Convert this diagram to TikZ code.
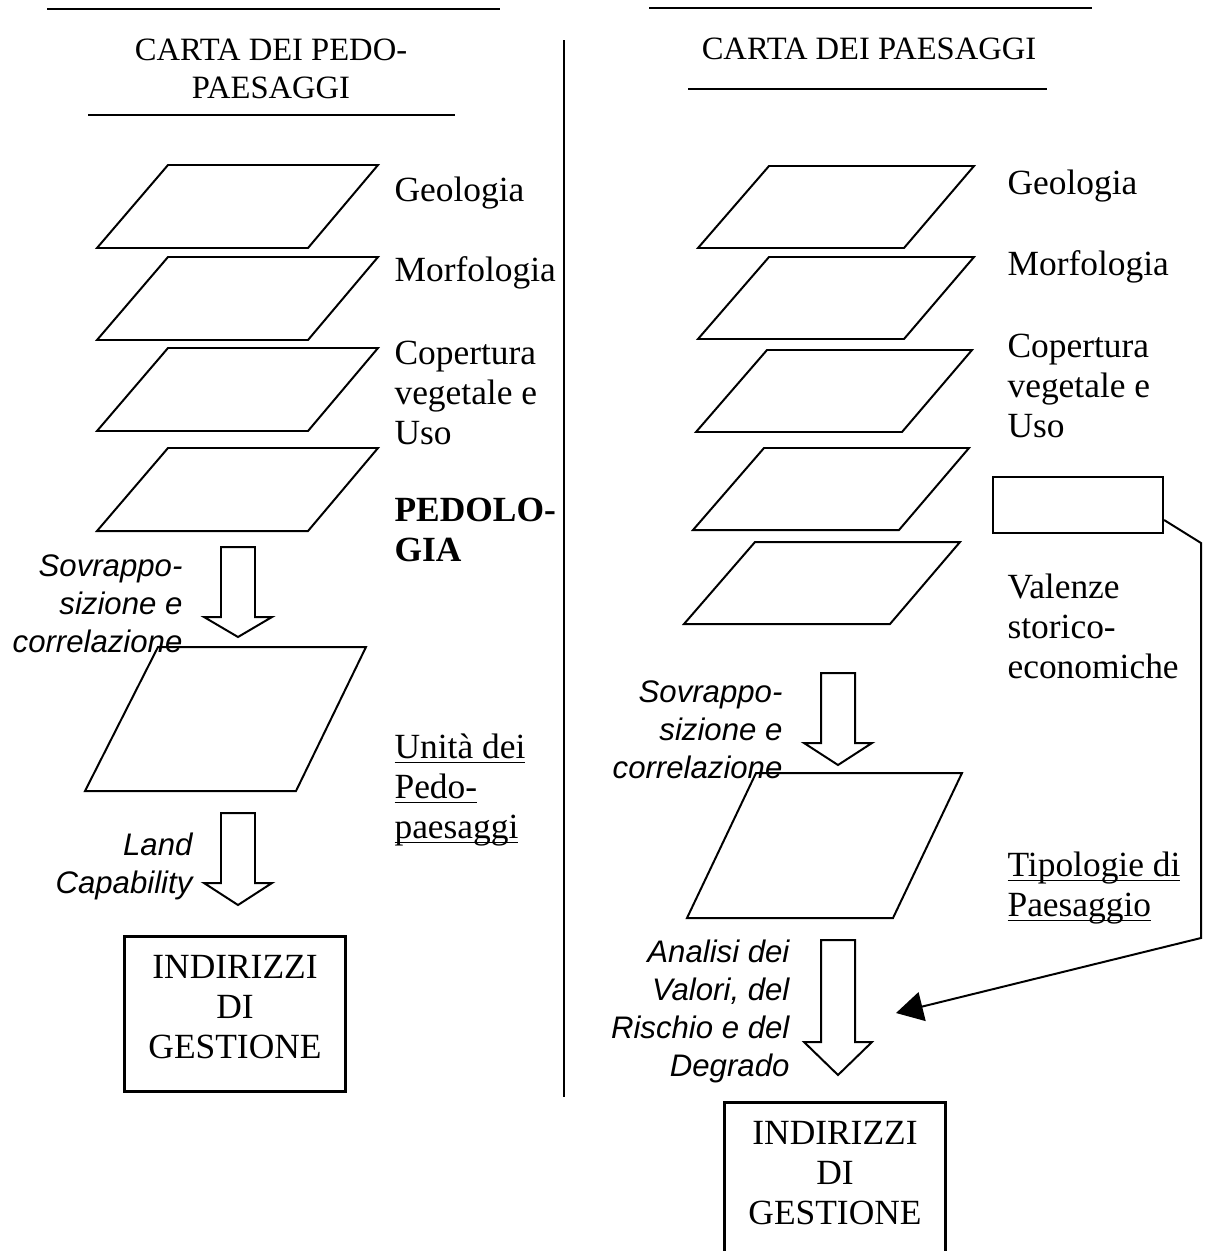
\documentclass[tikz,border=0pt]{standalone}
\usepackage{fontspec}
\setmainfont{Liberation Serif}
\newfontfamily\arialfont{Liberation Sans}
\usetikzlibrary{arrows.meta,positioning}

\newcommand{\ulline}[1]{\underline{\smash{#1}}}

\tikzset{
  layer/.style={draw, line width=0.7pt},
  blockarrow/.style={draw, line width=0.7pt, fill=white},
  hline/.style={line width=0.8pt},
  lbl/.style={anchor=west, align=left, inner sep=0pt, font=\fontsize{12.5}{14.1}\selectfont},
  proc/.style={anchor=east, align=right, inner sep=0pt, font=\arialfont\itshape\fontsize{11}{13.4}\selectfont},
  heading/.style={align=center, inner sep=0pt, font=\fontsize{11.5}{13.2}\selectfont},
  gestbox/.style={draw, line width=0.8pt, minimum width=78pt, minimum height=54.7pt, inner sep=0pt},
  valbox/.style={draw, line width=0.8pt, minimum width=60pt, minimum height=19.8pt, inner sep=0pt}
}

\begin{document}
\begin{tikzpicture}[x=0.353pt,y=-0.353pt]

\useasboundingbox (0,0) rectangle (1207,1251);
\clip (0,0) rectangle (1207,1251);

\draw[hline] (47,9) -- (500,9);
\draw[hline] (88,115) -- (455,115);
\draw[hline] (649,8) -- (1092,8);
\draw[hline] (688,89) -- (1047,89);
\draw[line width=0.6pt] (564,40) -- (564,1097);

\node[heading] (headL) at (271,69) {CARTA DEI PEDO-\\PAESAGGI};
\node[heading] (headR) at (869,49) {CARTA DEI PAESAGGI};

\foreach \ly in {165,257,348,448}
  \draw[layer] (168,\ly) -- (378,\ly) -- (308,\ly+83) -- (97,\ly+83) -- cycle;
\draw[layer] (158,647) -- (366,647) -- (296,791) -- (85,791) -- cycle;

\foreach \rx/\ry in {0/166,0/257,-2/350,-5/448,-14/542}
  \draw[layer] (769+\rx,\ry) -- (974+\rx,\ry) -- (904+\rx,\ry+82) -- (698+\rx,\ry+82) -- cycle;
\draw[layer] (756,773) -- (962,773) -- (893,918) -- (687,918) -- cycle;

\foreach \ax/\at/\ah/\ap in {238/547/617/637, 238/813/883/905, 838/673/743/765, 838/940/1042/1075}
  \draw[blockarrow] (\ax-17,\at) -- (\ax-17,\ah) -- (\ax-34,\ah) -- (\ax,\ap) -- (\ax+34,\ah) -- (\ax+17,\ah) -- (\ax+17,\at) -- cycle;

\node[lbl] (geoL) at (394,193) {Geologia};
\node[lbl] (morfL) at (394,273) {Morfologia};
\node[lbl] (copL) at (394,393) {Copertura\\vegetale e\\Uso};
\node[lbl] (pedoL) at (394,530) {\textbf{PEDOLO-}\\\textbf{GIA}};
\node[lbl] (unitL) at (394,801) {\ulline{Unità dei}\\\ulline{Pedo-}\\\ulline{paesaggi}};

\node[lbl] (geoR) at (1007,186) {Geologia};
\node[lbl] (morfR) at (1007,267) {Morfologia};
\node[lbl] (copR) at (1007,386) {Copertura\\vegetale e\\Uso};
\node[lbl] (valR) at (1007,626) {Valenze\\storico-\\economiche};
\node[lbl] (tipoR) at (1007,899) {\ulline{Tipologie di}\\\ulline{Paesaggio}};

\node[proc] (sovL) at (183,604) {Sovrappo-\\sizione e\\correlazione};
\node[proc] (landL) at (193,866) {Land\\Capability};
\node[proc] (sovR) at (783,730) {Sovrappo-\\sizione e\\correlazione};
\node[proc] (anaR) at (790,1011) {Analisi dei\\Valori, del\\Rischio e del\\Degrado};

\node[gestbox] (gestL) at (235,1014) {};
\node[lbl, anchor=center, align=center, below=7pt of gestL.north] (gestLtxt) {INDIRIZZI\\DI\\GESTIONE};
\node[gestbox] (gestR) at (835,1180) {};
\node[lbl, anchor=center, align=center, below=7pt of gestR.north] (gestRtxt) {INDIRIZZI\\DI\\GESTIONE};

\node[valbox] (valrect) at (1078,505) {};
\coordinate (degtip) at (896,1013);
\draw[line width=0.7pt, -{Triangle[length=9.5pt,width=10.4pt]}] ([yshift=5pt]valrect.south east) -- (1201,543) -- (1201,938) -- (degtip);

\end{tikzpicture}
\end{document}
